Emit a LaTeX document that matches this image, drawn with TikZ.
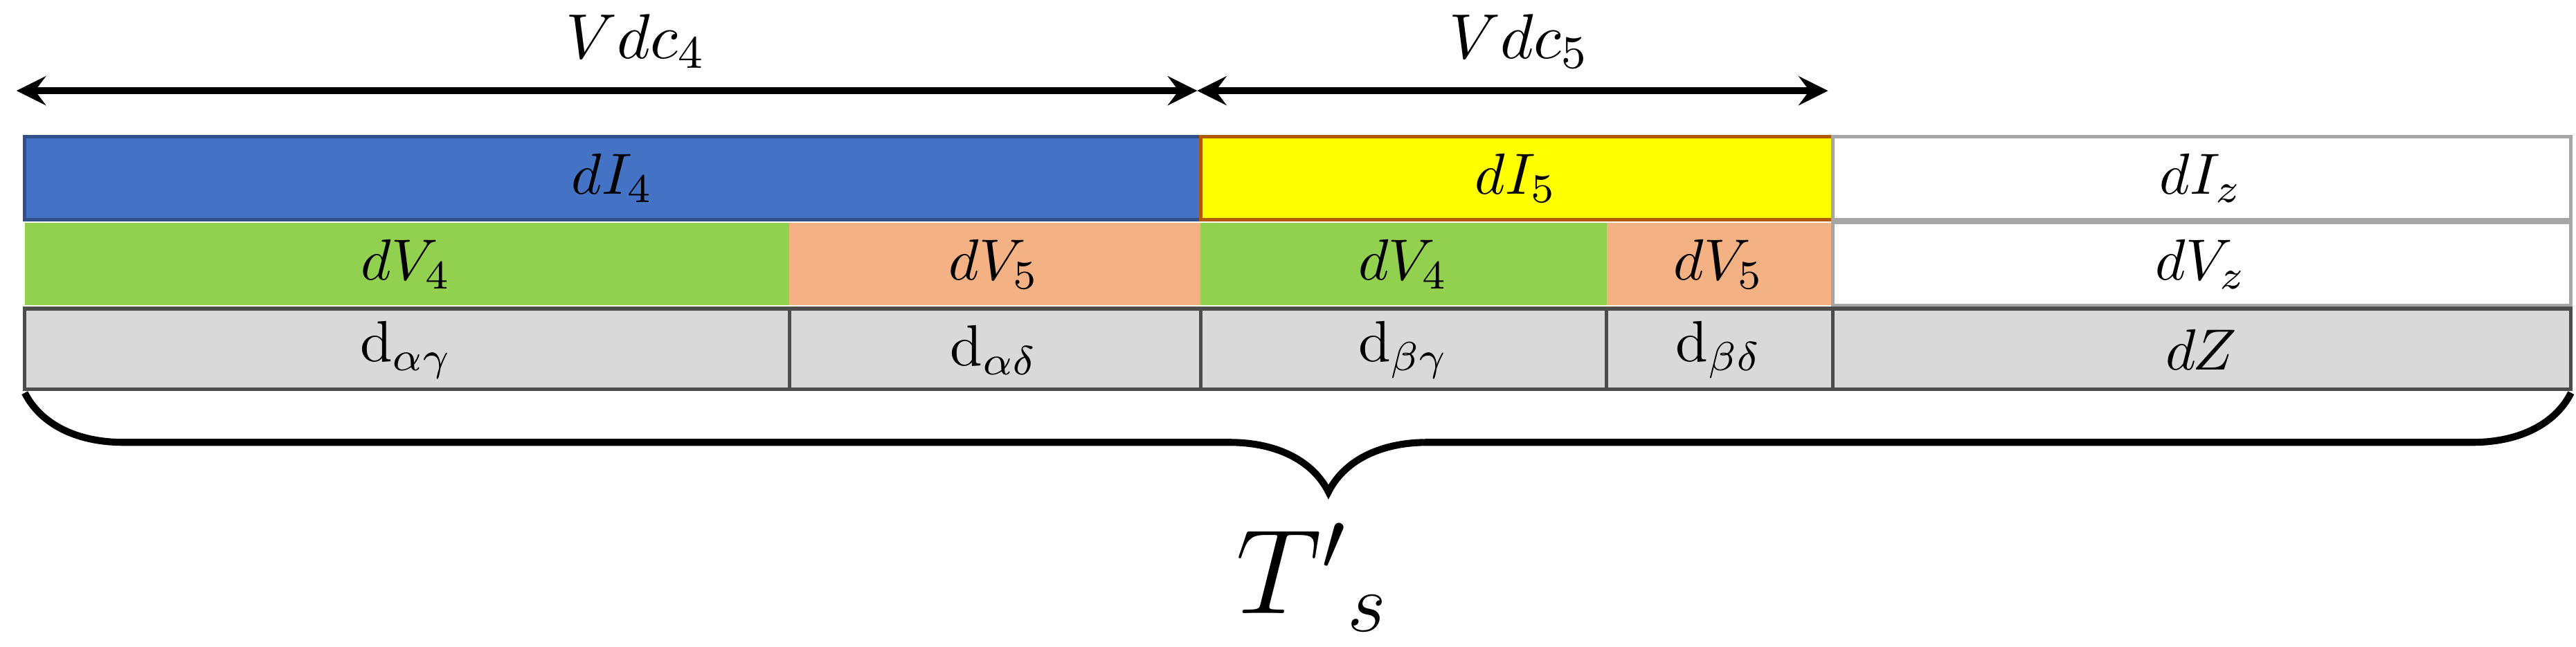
\documentclass[tikz,border=0pt]{standalone}
\usetikzlibrary{decorations.pathreplacing}
\begin{document}
\begin{tikzpicture}[x=0.01cm,y=-0.01cm,
 cell/.style={draw=black!70,line width=0.6pt},
 lab/.style={font=\fontsize{10}{12}\selectfont},
 arr/.style={<->,>=stealth,line width=1.2pt}]
\useasboundingbox (0,0) rectangle (1560,392);
\definecolor{cblue}{HTML}{4472C4}\definecolor{cyel}{HTML}{FFFF00}
\definecolor{cgreen}{HTML}{92D050}\definecolor{corange}{HTML}{F4B183}
\definecolor{cgray}{HTML}{D9D9D9}
% row 1
\filldraw[cell,fill=cblue,draw=cblue!70!black] (15,83) rectangle (727,133);
\filldraw[cell,fill=cyel,draw=orange!70!black] (727,83) rectangle (1110,133);
\filldraw[cell,fill=white,draw=black!35] (1110,83) rectangle (1557,133);
\node[lab] (i4) at (371,108) {$dI_4$};
\node[lab] (i5) at (918,108) {$dI_5$};
\node[lab] (iz) at (1333,108) {$dI_z$};
% row 2
\fill[cgreen] (15,135) rectangle (478,185);
\fill[corange] (478,135) rectangle (727,185);
\fill[cgreen] (727,135) rectangle (973,185);
\fill[corange] (973,135) rectangle (1110,185);
\filldraw[cell,fill=white,draw=black!35] (1110,135) rectangle (1557,185);
\node[lab] (v4a) at (246,160) {$dV_4$};
\node[lab] (v5a) at (602,160) {$dV_5$};
\node[lab] (v4b) at (850,160) {$dV_4$};
\node[lab] (v5b) at (1041,160) {$dV_5$};
\node[lab] (vz) at (1333,160) {$dV_z$};
% row 3
\filldraw[cell,fill=cgray] (15,187) rectangle (478,236);
\filldraw[cell,fill=cgray] (478,187) rectangle (727,236);
\filldraw[cell,fill=cgray] (727,187) rectangle (973,236);
\filldraw[cell,fill=cgray] (973,187) rectangle (1110,236);
\filldraw[cell,fill=cgray] (1110,187) rectangle (1557,236);
\node[lab] (d1) at (246,212) {$\mathrm{d}_{\alpha\gamma}$};
\node[lab] (d2) at (602,212) {$\mathrm{d}_{\alpha\delta}$};
\node[lab] (d3) at (850,212) {$\mathrm{d}_{\beta\gamma}$};
\node[lab] (d4) at (1041,212) {$\mathrm{d}_{\beta\delta}$};
\node[lab] (dz) at (1333,212) {$dZ$};
% arrows
\coordinate (a0) at (10,55); \coordinate (a1) at (725,55); \coordinate (a2) at (1107,55);
\draw[arr] (a0) -- (a1);
\draw[arr] (a1) -- (a2);
\node[font=\fontsize{11}{13}\selectfont] (vdc4) at (385,25) {$Vdc_4$};
\node[font=\fontsize{11}{13}\selectfont] (vdc5) at (920,25) {$Vdc_5$};
% brace
\coordinate (b0) at (1557,238); \coordinate (b1) at (15,238);
\draw[decorate,decoration={brace,amplitude=0.6cm,aspect=0.488},line width=1.2pt] (b0) -- (b1);
\node[font=\fontsize{20}{24}\selectfont] (ts) at (795,350) {$T'{}_s$};
\end{tikzpicture}
\end{document}
